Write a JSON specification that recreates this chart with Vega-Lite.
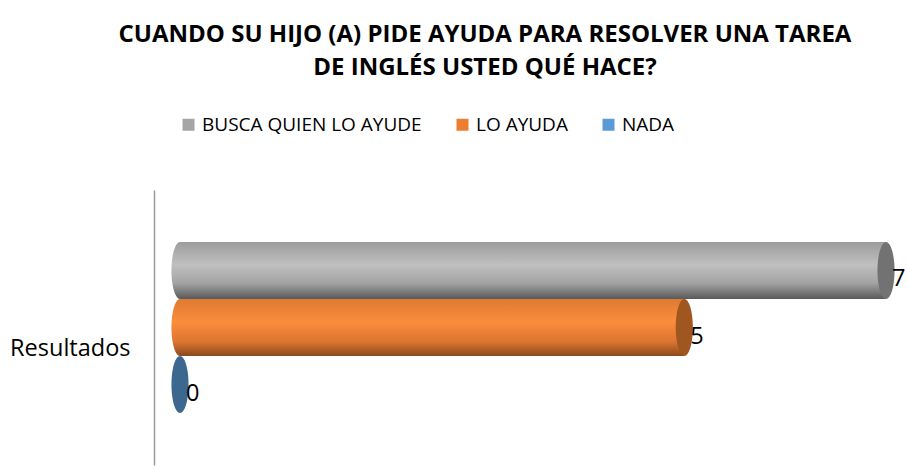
{
  "$schema": "https://vega.github.io/schema/vega-lite/v6.json",
  "width": 706,
  "height": 275,
  "autosize": {"type": "none"},
  "padding": {"left": 180, "top": 190, "right": 22, "bottom": 5},
  "background": "white",
  "config": {"view": {"stroke": null}, "font": "Open Sans"},
  "title": {
    "text": ["CUANDO SU HIJO (A) PIDE AYUDA PARA RESOLVER UNA TAREA", "DE INGLÉS USTED QUÉ HACE?"],
    "font": "Open Sans",
    "fontSize": 24,
    "fontWeight": "bold",
    "color": "#000000",
    "lineHeight": 33,
    "anchor": "middle",
    "frame": "group",
    "dx": -48,
    "offset": 35
  },
  "data": {
    "values": [
      {"categoria": "Resultados", "serie": "BUSCA QUIEN LO AYUDE", "valor": 7},
      {"categoria": "Resultados", "serie": "LO AYUDA", "valor": 5},
      {"categoria": "Resultados", "serie": "NADA", "valor": 0}
    ]
  },
  "encoding": {
    "y": {
      "field": "categoria",
      "type": "nominal",
      "scale": {"paddingInner": 0, "paddingOuter": 0.304},
      "axis": {
        "title": null,
        "ticks": false,
        "grid": false,
        "domain": true,
        "domainColor": "#9a9a9a",
        "domainWidth": 1.5,
        "offset": 26,
        "labelPadding": 24,
        "labelFontSize": 23.5,
        "labelFont": "Open Sans",
        "labelColor": "#000000",
        "labelOffset": 21
      }
    },
    "yOffset": {
      "field": "serie",
      "type": "nominal",
      "scale": {"domain": ["BUSCA QUIEN LO AYUDE", "LO AYUDA", "NADA"], "paddingInner": 0, "paddingOuter": 0}
    },
    "x": {
      "field": "valor",
      "type": "quantitative",
      "scale": {"domain": [0, 7], "nice": false, "zero": true},
      "axis": null
    }
  },
  "layer": [
    {
      "mark": {"type": "bar"},
      "encoding": {
        "color": {
          "field": "serie",
          "type": "nominal",
          "scale": {"domain": ["BUSCA QUIEN LO AYUDE", "LO AYUDA", "NADA"], "range": ["#a5a5a5", "#ed7d31", "#5b9bd5"]},
          "legend": {
            "orient": "none",
            "direction": "horizontal",
            "legendX": -1,
            "legendY": -75,
            "title": null,
            "symbolType": "square",
            "symbolSize": 144,
            "symbolStrokeWidth": 0,
            "labelFontSize": 19,
            "labelFont": "Open Sans",
            "labelColor": "#000000",
            "labelOffset": 4,
            "columnPadding": 31,
            "labelLimit": 400
          }
        }
      }
    },
    {
      "transform": [{"filter": "datum.serie === 'BUSCA QUIEN LO AYUDE'"}],
      "mark": {"type": "bar", "color": {"gradient": "linear", "x1": 0, "y1": 0, "x2": 0, "y2": 1, "stops": [{"offset": 0, "color": "#9c9c9c"}, {"offset": 0.4, "color": "#c0c0c0"}, {"offset": 0.72, "color": "#a3a3a3"}, {"offset": 1, "color": "#595959"}]}}
    },
    {
      "transform": [{"filter": "datum.serie === 'LO AYUDA'"}],
      "mark": {"type": "bar", "color": {"gradient": "linear", "x1": 0, "y1": 0, "x2": 0, "y2": 1, "stops": [{"offset": 0, "color": "#df7a32"}, {"offset": 0.4, "color": "#fb8c3c"}, {"offset": 0.75, "color": "#dc7531"}, {"offset": 1, "color": "#8a4a1c"}]}}
    },
    {
      "transform": [{"filter": "datum.serie === 'BUSCA QUIEN LO AYUDE'"}, {"calculate": "0", "as": "inicio"}],
      "mark": {"type": "point", "shape": "M0,-1A0.3,1,0,1,1,0,1A0.3,1,0,1,1,0,-1Z", "size": 3249, "filled": true, "opacity": 1, "strokeWidth": 0, "color": {"gradient": "linear", "x1": 0, "y1": 0, "x2": 0, "y2": 1, "stops": [{"offset": 0, "color": "#9c9c9c"}, {"offset": 0.4, "color": "#c0c0c0"}, {"offset": 0.72, "color": "#a3a3a3"}, {"offset": 1, "color": "#595959"}]}},
      "encoding": {"x": {"field": "inicio", "type": "quantitative"}}
    },
    {
      "transform": [{"filter": "datum.serie === 'LO AYUDA'"}, {"calculate": "0", "as": "inicio"}],
      "mark": {"type": "point", "shape": "M0,-1A0.3,1,0,1,1,0,1A0.3,1,0,1,1,0,-1Z", "size": 3249, "filled": true, "opacity": 1, "strokeWidth": 0, "color": {"gradient": "linear", "x1": 0, "y1": 0, "x2": 0, "y2": 1, "stops": [{"offset": 0, "color": "#df7a32"}, {"offset": 0.4, "color": "#fb8c3c"}, {"offset": 0.75, "color": "#dc7531"}, {"offset": 1, "color": "#8a4a1c"}]}},
      "encoding": {"x": {"field": "inicio", "type": "quantitative"}}
    },
    {
      "mark": {"type": "point", "shape": "M0,-1A0.3,1,0,1,1,0,1A0.3,1,0,1,1,0,-1Z", "size": 3249, "filled": true, "opacity": 1, "strokeWidth": 0},
      "encoding": {
        "color": {
          "field": "serie",
          "type": "nominal",
          "scale": {"domain": ["BUSCA QUIEN LO AYUDE", "LO AYUDA", "NADA"], "range": ["#a5a5a5", "#ed7d31", "#5b9bd5"]},
          "legend": null
        },
        "fill": {
          "field": "serie",
          "type": "nominal",
          "scale": {"domain": ["BUSCA QUIEN LO AYUDE", "LO AYUDA", "NADA"], "range": ["#727272", "#a0561f", "#3c688f"]},
          "legend": null
        }
      }
    },
    {
      "mark": {"type": "text", "align": "left", "baseline": "middle", "dx": 6, "dy": 9, "fontSize": 23.5, "font": "Open Sans", "color": "#000000"},
      "encoding": {"text": {"field": "valor", "type": "quantitative"}}
    }
  ]
}
